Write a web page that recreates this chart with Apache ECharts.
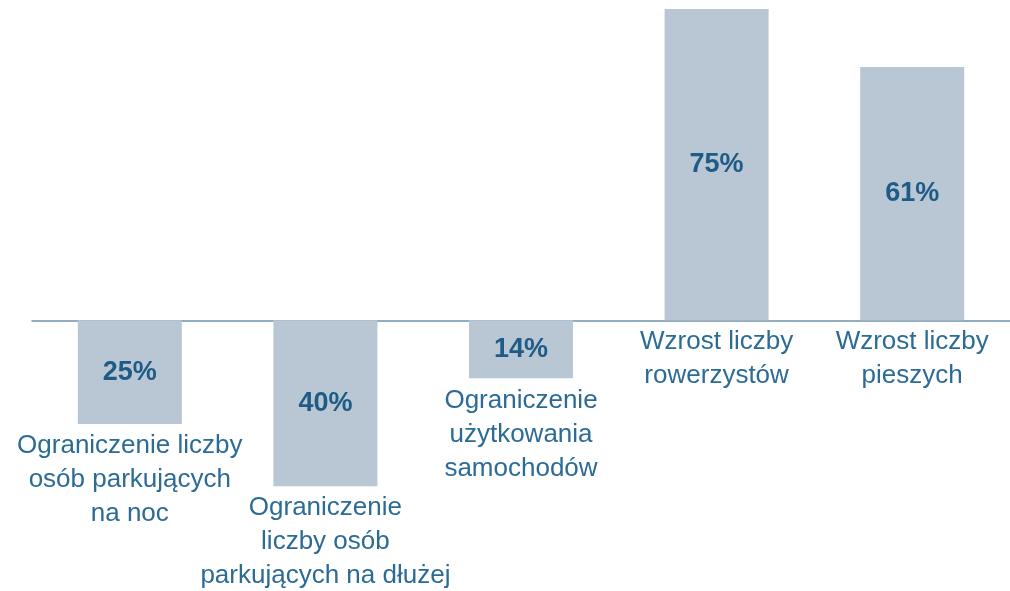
<!DOCTYPE html>
<html>
<head>
<meta charset="utf-8">
<script src="https://cdn.jsdelivr.net/npm/echarts@6/dist/echarts.min.js"></script>
<style>html,body{margin:0;padding:0;background:#fff}#c{width:1010px;height:591px}</style>
</head>
<body>
<div id="c"></div>
<script>
const categories = [
  'Ograniczenie liczby\nosób parkujących\nna noc',
  'Ograniczenie\nliczby osób\nparkujących na dłużej',
  'Ograniczenie\nużytkowania\nsamochodów',
  'Wzrost liczby\nrowerzystów',
  'Wzrost liczby\npieszych'
];
const values = [-25, -40, -14, 75, 61];

const chart = echarts.init(document.getElementById('c'));
chart.setOption({
  animation: false,
  grid: { left: 32, right: -2, top: 9, bottom: 1 },
  xAxis: {
    type: 'category',
    data: categories,
    axisLine: { onZero: true, lineStyle: { color: '#6f93ad', width: 1.5 } },
    axisTick: { show: false },
    axisLabel: { show: false }
  },
  yAxis: {
    type: 'value',
    min: -65, max: 75,
    show: false,
    splitLine: { show: false }
  },
  series: [
    {
      type: 'bar',
      data: values,
      barWidth: 104,
      itemStyle: { color: '#b9c6d3' },
      label: {
        show: true,
        position: 'inside',
        formatter: p => Math.abs(p.value) + '%',
        color: '#1f5b87',
        fontFamily: 'Liberation Sans, Arial, sans-serif',
        fontWeight: 'bold',
        fontSize: 27
      },
      z: 2
    },
    {
      type: 'bar',
      data: values,
      barWidth: 104,
      barGap: '-100%',
      itemStyle: { color: 'rgba(0,0,0,0)' },
      silent: true,
      label: {
        show: true,
        position: 'bottom',
        distance: 5,
        formatter: p => categories[p.dataIndex],
        color: '#2b6b96',
        fontFamily: 'Liberation Sans, Arial, sans-serif',
        fontSize: 26,
        lineHeight: 34,
        align: 'center'
      },
      z: 3
    }
  ]
});
</script>
</body>
</html>
